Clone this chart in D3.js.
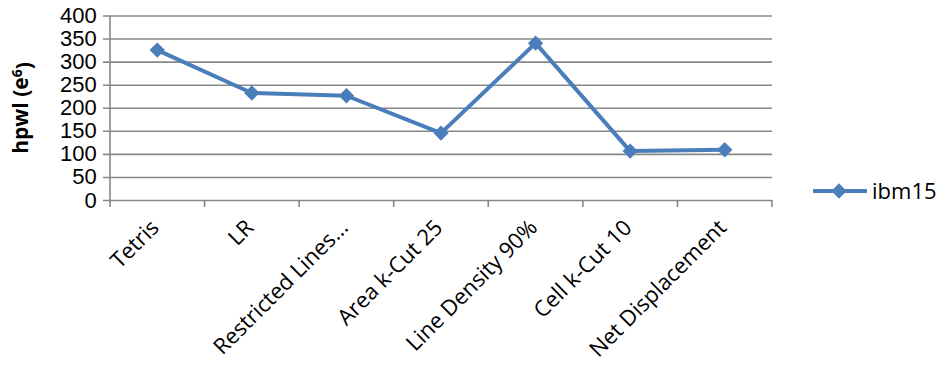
<!DOCTYPE html>
<html>
<head>
<meta charset="utf-8">
<script src="https://cdn.jsdelivr.net/npm/d3@7/dist/d3.min.js"></script>
<style>
  html, body { margin: 0; padding: 0; background: #fff; }
  svg { display: block; font-family: "Open Sans", sans-serif; }
</style>
</head>
<body>
<svg id="chart" width="939" height="372"></svg>
<script>
// hpwl per placement method, ibm15 benchmark
const categories = ["Tetris", "LR", "Restricted Lines...", "Area k-Cut 25", "Line Density 90%", "Cell k-Cut 10", "Net Displacement"];
const seriesName = "ibm15";
const hpwl = [325, 232, 226, 145, 340, 106, 109];
const yTicks = [0, 50, 100, 150, 200, 250, 300, 350, 400];

const svg = d3.select("#chart");
const margin = { left: 110, right: 167, top: 15.5, bottom: 172 };
const W = 939, H = 372;
const plotW = W - margin.left - margin.right;
const plotH = H - margin.top - margin.bottom;
const blue = "#4A7EBB";
const grid = "#878787";

const x = d3.scaleBand().domain(categories).range([0, plotW]);
const y = d3.scaleLinear().domain([0, 400]).range([plotH, 0]);

const g = svg.append("g").attr("transform", `translate(${margin.left},${margin.top})`);

// horizontal gridlines with short outer ticks
const yAxis = d3.axisLeft(y).tickValues(yTicks).tickSize(-plotW).tickSizeOuter(0).tickPadding(18);
const yg = g.append("g").call(yAxis);
yg.select(".domain").remove();
yg.selectAll(".tick line").attr("x1", -7).attr("stroke", grid).attr("stroke-width", 1.6);
yg.selectAll(".tick text").attr("fill", "#000").style("font-size", "22px").attr("dx", "-0.6em").attr("x", 0);

// vertical axis line
g.append("line").attr("x1", 0).attr("x2", 0).attr("y1", 0).attr("y2", plotH + 7)
  .attr("stroke", grid).attr("stroke-width", 1.6);

// category boundary ticks under the baseline
const bounds = categories.map(c => x(c) + x.bandwidth());
g.selectAll(".ctick").data(bounds).join("line")
  .attr("class", "ctick")
  .attr("x1", d => d).attr("x2", d => d)
  .attr("y1", plotH).attr("y2", plotH + 7)
  .attr("stroke", grid).attr("stroke-width", 1.6);

// rotated category labels
g.selectAll(".clabel").data(categories).join("text")
  .attr("class", "clabel")
  .attr("transform", d => `translate(${x(d) + x.bandwidth() / 2 + 3},${plotH + 29}) rotate(-45)`)
  .attr("text-anchor", "end")
  .style("font-size", "22px")
  .attr("fill", "#000")
  .text(d => d);

// y-axis title
const title = svg.append("text")
  .attr("transform", `translate(28,108) rotate(-90)`)
  .attr("text-anchor", "middle")
  .style("font-size", "21px")
  .style("font-weight", "bold")
  .attr("fill", "#000");
title.append("tspan").text("hpwl (e");
title.append("tspan").attr("dy", "-0.45em").style("font-size", "14px").text("6");
title.append("tspan").attr("dy", "0.45em").text(")");

// series line and diamond markers
const line = d3.line().x((d, i) => x(categories[i]) + x.bandwidth() / 2).y(d => y(d));
g.append("path").datum(hpwl).attr("d", line)
  .attr("fill", "none").attr("stroke", blue).attr("stroke-width", 4).attr("stroke-linejoin", "round");

const diamond = d3.symbol().type(d3.symbolDiamond2).size(150);
g.selectAll(".pt").data(hpwl).join("path")
  .attr("class", "pt")
  .attr("d", diamond)
  .attr("transform", (d, i) => `translate(${x(categories[i]) + x.bandwidth() / 2},${y(d)})`)
  .attr("fill", blue);

// legend
const lg = svg.append("g").attr("transform", "translate(813,191)");
lg.append("line").attr("x1", 0).attr("x2", 54).attr("y1", 0).attr("y2", 0)
  .attr("stroke", blue).attr("stroke-width", 4);
lg.append("path").attr("d", diamond).attr("transform", "translate(26,0)").attr("fill", blue);
lg.append("text").attr("x", 59).attr("y", 0).attr("dy", "0.35em")
  .style("font-size", "22px").attr("fill", "#000").text(seriesName);
</script>
</body>
</html>
